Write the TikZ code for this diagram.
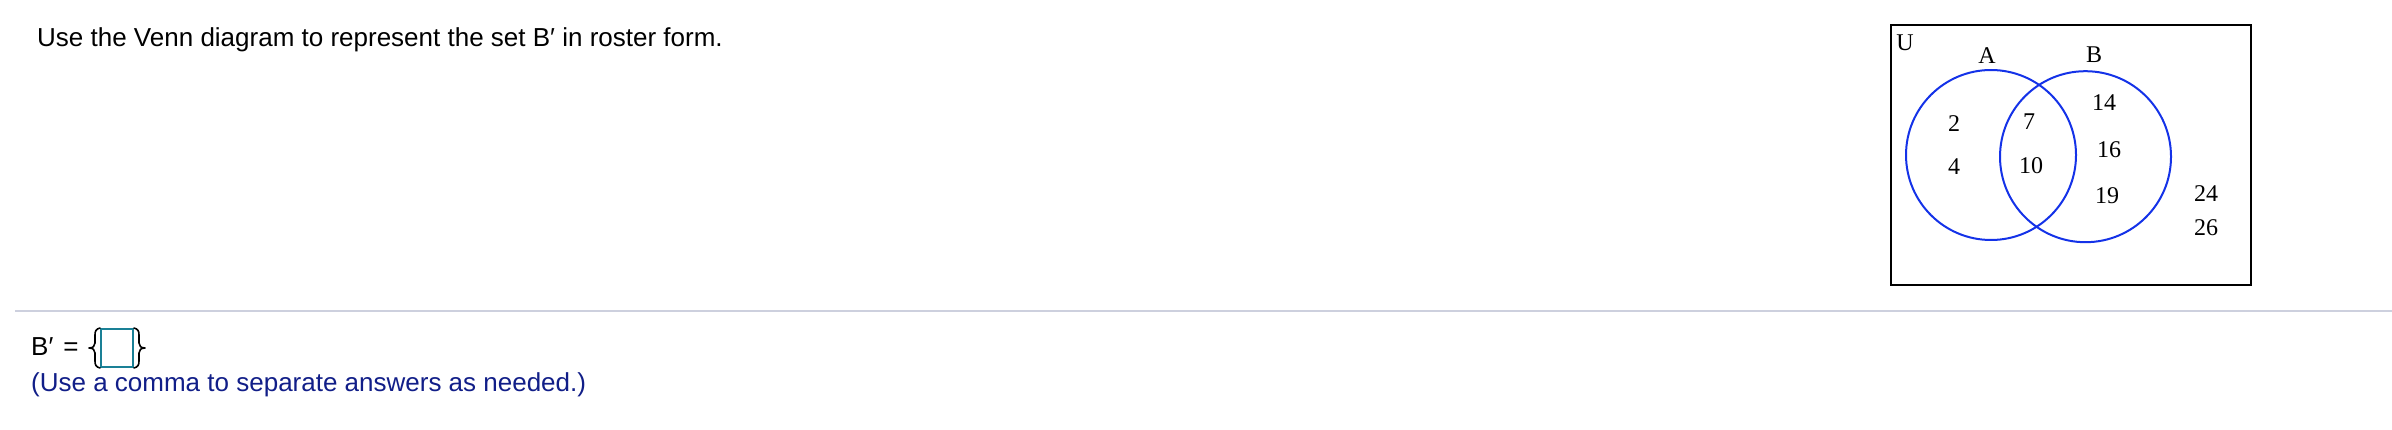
\documentclass[tikz,border=0pt]{standalone}
\usepackage{fontspec}
\setmainfont{Liberation Sans}
\newfontfamily\venn{Liberation Serif}
\definecolor{navy}{RGB}{17,30,136}
\definecolor{teal2}{RGB}{26,128,150}
\definecolor{vennblue}{RGB}{20,50,232}
\definecolor{rule}{RGB}{205,208,222}
\begin{document}
\begin{tikzpicture}[x=1pt,y=-1pt,
  txt/.style={inner sep=0pt,anchor=base west,font=\fontsize{26}{30}\selectfont},
  num/.style={inner sep=0pt,font=\venn\fontsize{24}{27}\selectfont},
  vcirc/.style={draw=vennblue,line width=2pt,circle,inner sep=0pt},
  brace/.style={draw=black,line width=1.6pt,line cap=round,line join=round}]
\useasboundingbox (0,0) rectangle (2392,430);
% question
\node[txt] (q) at (37,47) {Use the Venn diagram to represent the set B′ in roster form.};
% divider
\coordinate (r1) at (15,311);
\coordinate (r2) at (2392,311);
\draw[rule,line width=2pt] (r1) -- (r2);
% answer line
\node[txt] (bp) at (31,355) {B′};
\node[txt,anchor=base] (eq) at (71,355) {=};
\node[draw=teal2,line width=2pt,inner sep=0pt,minimum width=32pt,minimum height=38pt] (ans) at (117,348) {};
\draw[brace] (ans.north west) .. controls (96,329) and (95,331) .. (95,335) -- (95,343)
  .. controls (95,346) and (93,348) .. (89,348) .. controls (93,348) and (95,350) .. (95,353)
  -- (95,361) .. controls (95,365) and (96,367) .. (ans.south west);
\draw[brace] (ans.north east) .. controls (138,329) and (139,331) .. (139,335) -- (139,343)
  .. controls (139,346) and (141,348) .. (145,348) .. controls (141,348) and (139,350) .. (139,353)
  -- (139,361) .. controls (139,365) and (138,367) .. (ans.south east);
\node[txt,text=navy] (hint) at (31,391) {(Use a comma to separate answers as needed.)};
% venn
\node[draw=black,line width=2.2pt,inner sep=0pt,minimum width=360pt,minimum height=260pt] (U) at (2071,155) {};
\node[vcirc,minimum size=170pt] (A) at (1991,155) {};
\node[vcirc,minimum size=171pt] (B) at (2085.5,156.7) {};
\node[num] (lu) at (1905,42.5) {U};
\node[num] (la) at (1987,56) {A};
\node[num] (lb) at (2094,54.5) {B};
\node[num] (n2) at (1954,124) {2};
\node[num] (n4) at (1954,167) {4};
\node[num] (n7) at (2029,122) {7};
\node[num] (n10) at (2031,166) {10};
\node[num] (n14) at (2104,103) {14};
\node[num] (n16) at (2109,150) {16};
\node[num] (n19) at (2107,196) {19};
\node[num] (n24) at (2206,194) {24};
\node[num] (n26) at (2206,228) {26};
\end{tikzpicture}
\end{document}
